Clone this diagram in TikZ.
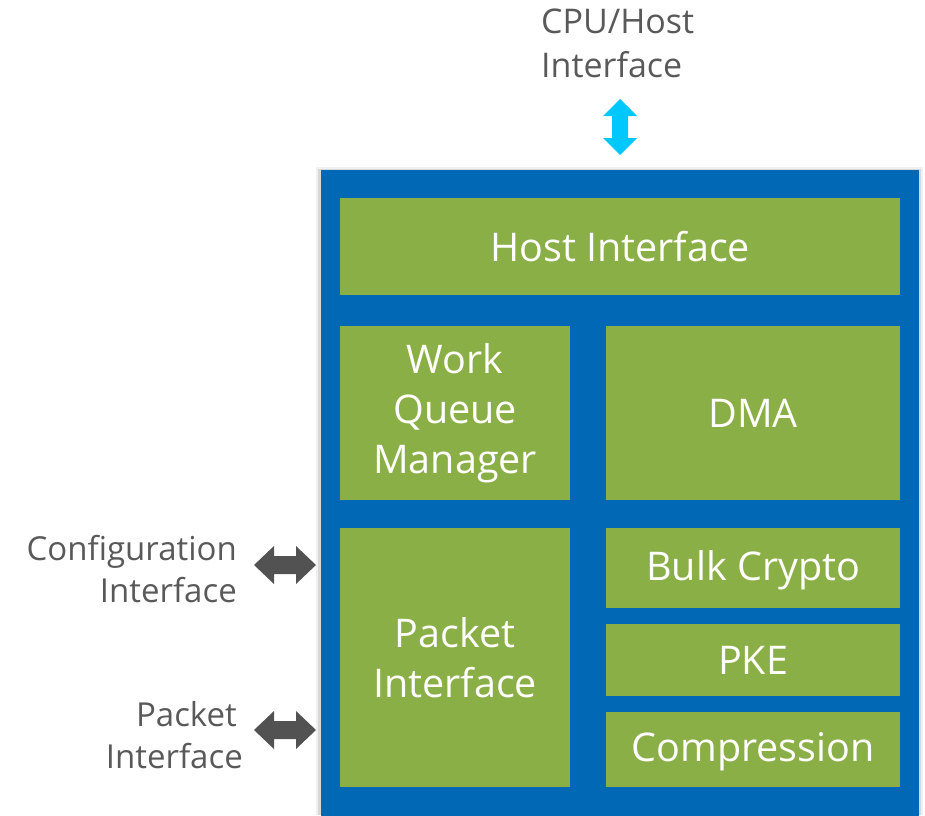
\documentclass[tikz,border=0pt]{standalone}
\usepackage{fontspec}
\setmainfont{Open Sans}
\definecolor{chipblue}{RGB}{0,104,181}
\definecolor{boxgreen}{RGB}{139,175,71}
\definecolor{hostcyan}{RGB}{0,199,253}
\definecolor{portgray}{RGB}{82,82,82}
\definecolor{labelgray}{RGB}{89,89,89}
\begin{document}
\begin{tikzpicture}[x=1pt,y=-1pt,
  blk/.style={fill=boxgreen, text=white, font=\fontsize{39.5}{50}\selectfont,
    align=center, inner sep=0pt, anchor=north west},
  lbl/.style={text=labelgray, font=\fontsize{33}{42}\selectfont, inner sep=0pt},
  hostarrow/.style={fill=hostcyan},
  portarrow/.style={fill=portgray},
]
\useasboundingbox (0,0) rectangle (925,815);
\clip (0,0) rectangle (925,815);

% soft shadow behind the accelerator block
\fill[black,opacity=0.06] (316,167) rectangle (923,815);
\fill[black,opacity=0.10] (318,169) rectangle (921,815);

% accelerator outline
\node[fill=chipblue, minimum width=598pt, minimum height=650pt,
      anchor=north west, inner sep=0pt] (chip) at (321,170) {};

% functional blocks
\node[blk, minimum width=560pt, minimum height=97pt]  (host)  at (340,198) {Host Interface};
\node[blk, minimum width=230pt, minimum height=174pt] (wqm)   at (340,326) {Work\\Queue\\Manager};
\node[blk, minimum width=294pt, minimum height=174pt] (dma)   at (606,326) {DMA};
\node[blk, minimum width=230pt, minimum height=259pt] (pkt)   at (340,528) {Packet\\Interface};
\node[blk, minimum width=294pt, minimum height=80pt, text depth=5pt]  (bulk)  at (606,528) {Bulk Crypto};
\node[blk, minimum width=294pt, minimum height=72pt]  (pke)   at (606,624) {PKE};
\node[blk, minimum width=294pt, minimum height=75pt, text depth=5pt]  (comp)  at (606,712) {Compression};

% external interfaces
\node[lbl, anchor=north west, align=left, font=\fontsize{34}{44}\selectfont]
  (cpulbl) at (541,9) {CPU/Host\\Interface};
\node[lbl, anchor=north east, align=right] (cfglbl) at (237,535) {Configuration\\Interface};
\node[lbl, anchor=north east, align=right] (pktlbl) at (243,701) {Packet\hspace*{6pt}\\Interface};

% arrow end points
\coordinate (cpuA) at (620,99);
\coordinate (cfgA) at (254,565);
\coordinate (pktA) at (254,730);

% host link (vertical double arrow)
\fill[hostarrow] (cpuA) -- ++(17,17) -- ++(-9,0) -- ++(0,22) -- ++(9,0)
  -- ++(-17,17) -- ++(-17,-17) -- ++(9,0) -- ++(0,-22) -- ++(-9,0) -- cycle;

% configuration and packet links (horizontal double arrows)
\foreach \p in {cfgA,pktA}
  \fill[portarrow] (\p) -- ++(20,-19) -- ++(0,10) -- ++(22,0) -- ++(0,-10)
    -- ++(20,19) -- ++(-20,19) -- ++(0,-10) -- ++(-22,0) -- ++(0,10) -- cycle;
\end{tikzpicture}
\end{document}
